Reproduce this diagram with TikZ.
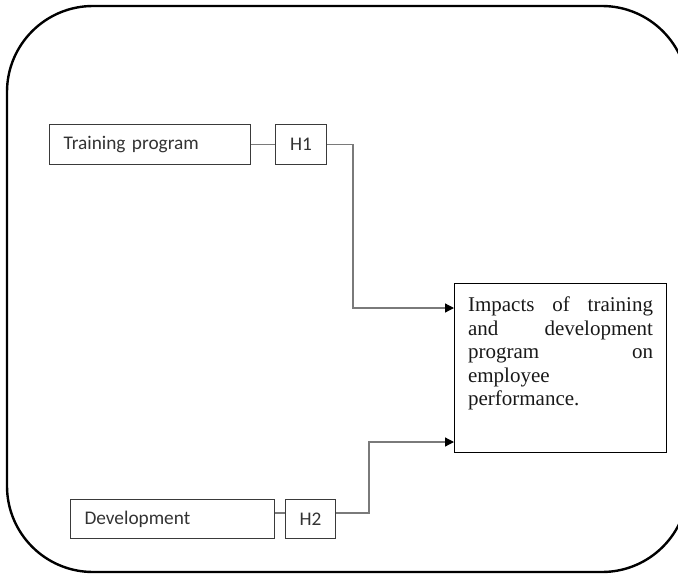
\documentclass[tikz,border=0pt]{standalone}
\usepackage{fontspec}
\setmainfont{Liberation Serif}
\newfontfamily\calfont{Carlito}
\usetikzlibrary{arrows.meta}
\definecolor{boxline}{HTML}{3A3A3A}
\definecolor{linkgray}{HTML}{7A7A7A}
\definecolor{labeltext}{HTML}{333333}

\begin{document}
\begin{tikzpicture}
  [x=1pt,y=-1pt,
   box/.style={draw=boxline,line width=1.1pt,rectangle,anchor=north west,
     minimum height=40pt,inner xsep=14pt,align=left,
     font=\calfont\fontsize{19.3}{22}\selectfont,text=labeltext},
   hyp/.style={draw=boxline,line width=1.1pt,rectangle,anchor=north west,
     minimum height=40pt,inner sep=0pt,
     font=\calfont\fontsize{19.3}{22}\selectfont,text=labeltext},
   target/.style={draw=black,line width=1.1pt,rectangle,anchor=north west,
     text width=185pt,inner xsep=13.5pt,inner ysep=14pt,
     text height=14.3pt,text depth=126.7pt,
     align=left,font=\fontsize{21}{23.5}\selectfont,text=black!90},
   link/.style={draw=linkgray,line width=1.3pt},
   tip/.style={-{Triangle[length=9pt,width=9pt,color=black]}}]
  \useasboundingbox (0,0) rectangle (678,576);
  \clip (0,0) rectangle (678,576);
  % frame, its right side runs off the page
  \draw[line width=2.4pt,rounded corners=86pt]
    (688,110) -- (688,6) -- (7,6) -- (7,572) -- (688,572) -- (688,470);

  \node[box,text width=173pt] (train) at (49,124) {Training program};
  \node[hyp,minimum width=51pt] (hone) at (275,124) {H1};
  \node[box,text width=176pt,minimum height=39pt] (dev) at (70,499) {Development};
  \node[hyp,minimum width=50pt,minimum height=39pt] (htwo) at (285,499) {H2};
  \node[target] (impact) at (454,283)
    {Impacts\hfill of\hfill training\\ and\hfill development\\
     program\hfill on\\ employee\\ performance.};

  \coordinate (inone) at (454,308);
  \coordinate (intwo) at (454,442);
  \draw[link] (train.east) -- (hone.west);
  \draw[link,tip] (hone.east) -- ++(26,0) |- (inone);
  \draw[link] ([yshift=6pt]dev.east) -- ([yshift=6pt]htwo.west);
  \draw[link,tip] ([yshift=6pt]htwo.east) -- ++(33,0) |- (intwo);

\end{tikzpicture}
\end{document}
